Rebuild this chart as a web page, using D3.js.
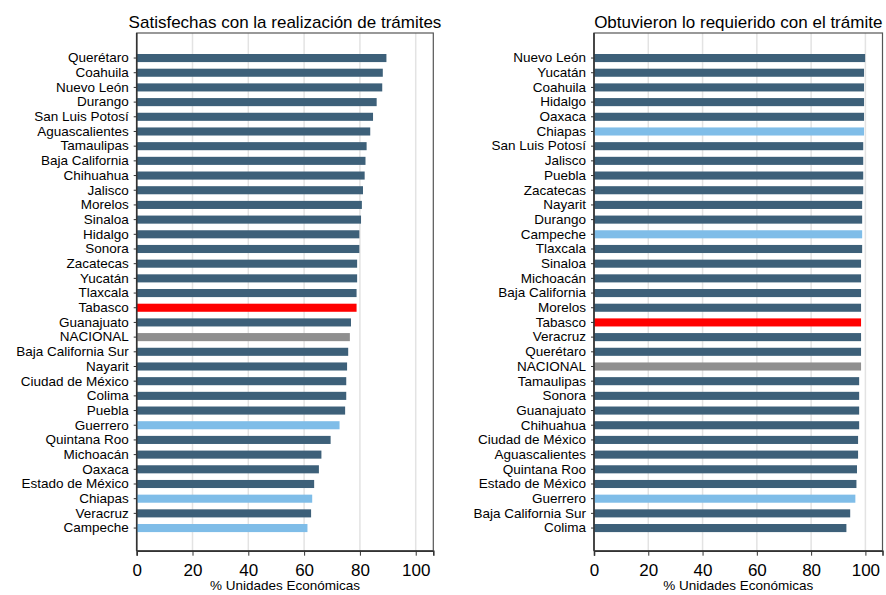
<!DOCTYPE html>
<html>
<head>
<meta charset="utf-8">
<script src="https://cdn.jsdelivr.net/npm/d3@7"></script>
<style>
  html, body { margin: 0; padding: 0; background: #fff; }
  svg { display: block; font-family: "Liberation Sans", Arial, Helvetica, sans-serif; }
</style>
</head>
<body>
<svg id="chart" width="886" height="595"></svg>
<script>
// ---- Data ----
const leftTitle = "Satisfechas con la realización de trámites";
const leftStates = ["Querétaro","Coahuila","Nuevo León","Durango","San Luis Potosí","Aguascalientes","Tamaulipas","Baja California","Chihuahua","Jalisco","Morelos","Sinaloa","Hidalgo","Sonora","Zacatecas","Yucatán","Tlaxcala","Tabasco","Guanajuato","NACIONAL","Baja California Sur","Nayarit","Ciudad de México","Colima","Puebla","Guerrero","Quintana Roo","Michoacán","Oaxaca","Estado de México","Chiapas","Veracruz","Campeche"];
const leftValues = [89.5,88.2,88.0,86.0,84.7,83.7,82.4,82.0,81.7,81.1,80.7,80.4,79.8,79.8,79.0,79.0,78.8,78.8,76.8,76.4,75.8,75.4,75.1,75.1,74.7,72.7,69.5,66.2,65.3,63.6,62.9,62.5,61.2];

const rightTitle = "Obtuvieron lo requierido con el trámite";
const rightStates = ["Nuevo León","Yucatán","Coahuila","Hidalgo","Oaxaca","Chiapas","San Luis Potosí","Jalisco","Puebla","Zacatecas","Nayarit","Durango","Campeche","Tlaxcala","Sinaloa","Michoacán","Baja California","Morelos","Tabasco","Veracruz","Querétaro","NACIONAL","Tamaulipas","Sonora","Guanajuato","Chihuahua","Ciudad de México","Aguascalientes","Quintana Roo","Estado de México","Guerrero","Baja California Sur","Colima"];
const rightValues = [99.9,99.5,99.5,99.5,99.5,99.5,99.2,99.2,99.2,99.2,98.8,98.8,98.8,98.8,98.4,98.4,98.4,98.4,98.4,98.4,98.4,98.4,97.7,97.7,97.7,97.7,97.3,97.3,96.9,96.7,96.3,94.4,93.0];

const xTicks = [0,20,40,60,80,100];
const xTitle = "% Unidades Económicas";

const highlightRed = ["Tabasco"];
const highlightGray = ["NACIONAL"];
const highlightLight = ["Guerrero","Chiapas","Campeche"];

// ---- Styles ----
const COL_DARK = "#3d6079";
const COL_LIGHT = "#7fbde8";
const COL_RED = "#ff0000";
const COL_GRAY = "#8f8f8f";

function barColor(s) {
  if (highlightRed.includes(s)) return COL_RED;
  if (highlightGray.includes(s)) return COL_GRAY;
  if (highlightLight.includes(s)) return COL_LIGHT;
  return COL_DARK;
}

const svg = d3.select("#chart");

function panel(cfg) {
  const { x0, x1, y0, y1, states, values, title } = cfg;
  const g = svg.append("g");
  const x = d3.scaleLinear().domain([0, 106.3]).range([x0, x1]);
  const y = d3.scaleBand().domain(states).range([50.7, 535.4]).paddingInner(0.45).paddingOuter(0.225);

  // gridlines
  g.append("g").selectAll("line").data(xTicks.filter(t => t > 0)).join("line")
    .attr("x1", d => x(d)).attr("x2", d => x(d))
    .attr("y1", y0).attr("y2", y1)
    .attr("stroke", "#e3e3e3").attr("stroke-width", 1.5);

  // frame
  g.append("rect").attr("x", x0).attr("y", y0).attr("width", x1 - x0).attr("height", y1 - y0)
    .attr("fill", "none").attr("stroke", "#555").attr("stroke-width", 1.2);

  // bars
  g.append("g").selectAll("rect").data(states).join("rect")
    .attr("x", x(0))
    .attr("y", d => y(d))
    .attr("width", (d, i) => x(values[i]) - x(0))
    .attr("height", y.bandwidth())
    .attr("fill", d => barColor(d));

  // y axis
  const ya = g.append("g").attr("transform", `translate(${x0},0)`)
    .call(d3.axisLeft(y).tickSize(3).tickPadding(5));
  ya.select(".domain").remove();
  ya.selectAll(".tick line").attr("stroke", "#333");
  ya.selectAll("text").attr("font-size", "13.5px").attr("fill", "#000")
    .attr("font-family", "Liberation Sans, Arial, sans-serif");

  // left axis line
  g.append("line").attr("x1", x0).attr("x2", x0).attr("y1", y0).attr("y2", y1)
    .attr("stroke", "#333").attr("stroke-width", 1.6);

  // x axis
  const xa = g.append("g").attr("transform", `translate(0,${y1})`)
    .call(d3.axisBottom(x).tickValues(xTicks).tickSize(5).tickPadding(8).tickFormat(d3.format("d")));
  xa.select(".domain").attr("stroke", "#333").attr("stroke-width", 1.6);
  xa.selectAll(".tick line").attr("stroke", "#333");
  xa.selectAll("text").attr("font-size", "17px").attr("fill", "#000")
    .attr("font-family", "Liberation Sans, Arial, sans-serif");

  // x title
  g.append("text").attr("x", (x0 + x1) / 2).attr("y", 590).attr("text-anchor", "middle")
    .attr("font-size", "13.5px").attr("fill", "#000").text(xTitle);

  // panel title
  g.append("text").attr("x", (x0 + x1) / 2).attr("y", 28).attr("text-anchor", "middle")
    .attr("font-size", "17px").attr("fill", "#000").text(title);
}

panel({ x0: 136.7, x1: 433.3, y0: 33, y1: 550.7, states: leftStates, values: leftValues, title: leftTitle });
panel({ x0: 594, x1: 882.5, y0: 33, y1: 550.7, states: rightStates, values: rightValues, title: rightTitle });
</script>
</body>
</html>
